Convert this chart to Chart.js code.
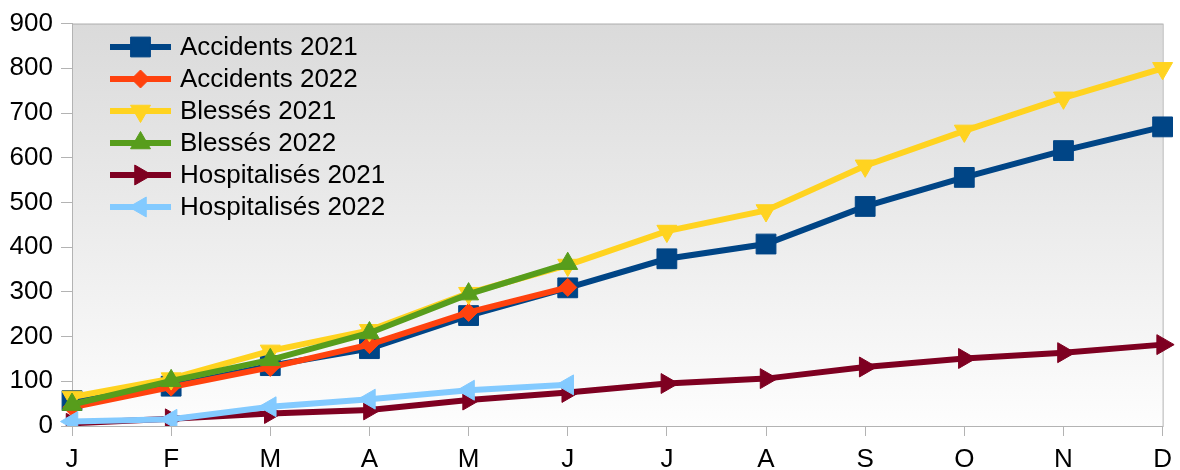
<!DOCTYPE html>
<html>
<head>
<meta charset="utf-8">
<script src="https://cdn.jsdelivr.net/npm/chart.js@4.4.0/dist/chart.umd.min.js"></script>
<style>
  body { margin: 0; background: #fff; }
  #wrap { width: 1180px; height: 470px; }
</style>
</head>
<body>
<div id="wrap"><canvas id="chart" width="1180" height="470"></canvas></div>
<script>
var months = ["J", "F", "M", "A", "M", "J", "J", "A", "S", "O", "N", "D"];
var accidents2021 = [57, 89, 135, 173, 247, 309, 374, 407, 491, 556, 616, 669];
var accidents2022 = [42, 87, 131, 182, 254, 310];
var blesses2021 = [65, 106, 168, 214, 297, 360, 436, 482, 582, 660, 734, 800];
var blesses2022 = [48, 101, 148, 208, 295, 363];
var hosp2021 = [6, 16, 28, 36, 58, 75, 95, 106, 132, 151, 164, 182];
var hosp2022 = [10, 15, 43, 60, 80, 92];

var FONT = "'Liberation Sans', Arial, sans-serif";

function serie(label, data, color, style, rot, radius, order) {
  return {
    label: label,
    data: data,
    borderColor: color,
    backgroundColor: color,
    borderWidth: 6,
    tension: 0,
    pointStyle: style,
    pointRotation: rot,
    pointRadius: radius,
    pointBorderWidth: 1,
    pointBackgroundColor: color,
    pointBorderColor: color,
    order: order
  };
}

// fond degrade + cadre de la zone de trace
var plotBg = {
  id: "plotBg",
  beforeDraw: function (chart) {
    var a = chart.chartArea, ctx = chart.ctx;
    var g = ctx.createLinearGradient(0, a.top, 0, a.bottom);
    g.addColorStop(0, "#dadada");
    g.addColorStop(1, "#fdfdfd");
    ctx.save();
    ctx.fillStyle = g;
    ctx.fillRect(a.left, a.top, a.right - a.left, a.bottom - a.top);
    ctx.strokeStyle = "#b3b3b3";
    ctx.lineWidth = 1;
    ctx.strokeRect(a.left + 0.5, a.top + 0.5, a.right - a.left, a.bottom - a.top);
    ctx.restore();
  }
};

// legende : trait + marqueur, comme dans LibreOffice
var lineLegend = {
  id: "lineLegend",
  afterDraw: function (chart) {
    var ctx = chart.ctx;
    var x0 = 110, x1 = 171, y = 47, step = 32;
    ctx.save();
    chart.data.datasets.forEach(function (ds) {
      ctx.strokeStyle = ds.borderColor;
      ctx.fillStyle = ds.borderColor;
      ctx.lineWidth = 6;
      ctx.beginPath();
      ctx.moveTo(x0, y);
      ctx.lineTo(x1, y);
      ctx.stroke();
      ctx.lineWidth = 1;
      Chart.helpers.drawPoint(ctx, {
        pointStyle: ds.pointStyle,
        rotation: ds.pointRotation,
        radius: ds.pointRadius,
        borderWidth: 1
      }, (x0 + x1) / 2, y);
      ctx.fillStyle = "#000";
      ctx.font = "26px " + FONT;
      ctx.textBaseline = "middle";
      ctx.fillText(ds.label, 180, y + 1);
      y += step;
    });
    ctx.restore();
  }
};

new Chart(document.getElementById("chart"), {
  type: "line",
  data: {
    labels: months,
    datasets: [
      serie("Accidents 2021", accidents2021, "#004586", "rect", 0, 14, 6),
      serie("Accidents 2022", accidents2022, "#ff420e", "rectRot", 0, 9, 5),
      serie("Blessés 2021", blesses2021, "#ffd320", "triangle", 180, 11.5, 4),
      serie("Blessés 2022", blesses2022, "#579d1c", "triangle", 0, 11.5, 3),
      serie("Hospitalisés 2021", hosp2021, "#7e0021", "triangle", 90, 11.5, 2),
      serie("Hospitalisés 2022", hosp2022, "#83caff", "triangle", -90, 11.5, 1)
    ]
  },
  options: {
    responsive: false,
    animation: false,
    layout: { padding: { top: 21, right: 17, left: 0, bottom: 0 } },
    plugins: {
      legend: { display: false },
      tooltip: { enabled: false }
    },
    scales: {
      x: {
        offset: false,
        grid: { drawOnChartArea: false, color: "#b3b3b3", tickLength: 10 },
        border: { color: "#b3b3b3" },
        ticks: { color: "#000", font: { family: FONT, size: 26 }, padding: 8, maxRotation: 0, autoSkip: false },
        afterFit: function (s) { s.height = 44; }
      },
      y: {
        min: 0,
        max: 900,
        grid: { drawOnChartArea: false, color: "#b3b3b3", tickLength: 11 },
        border: { color: "#b3b3b3" },
        ticks: { stepSize: 100, color: "#000", font: { family: FONT, size: 26 }, padding: 8 },
        afterFit: function (s) { s.width = 72; }
      }
    }
  },
  plugins: [plotBg, lineLegend]
});
</script>
</body>
</html>
